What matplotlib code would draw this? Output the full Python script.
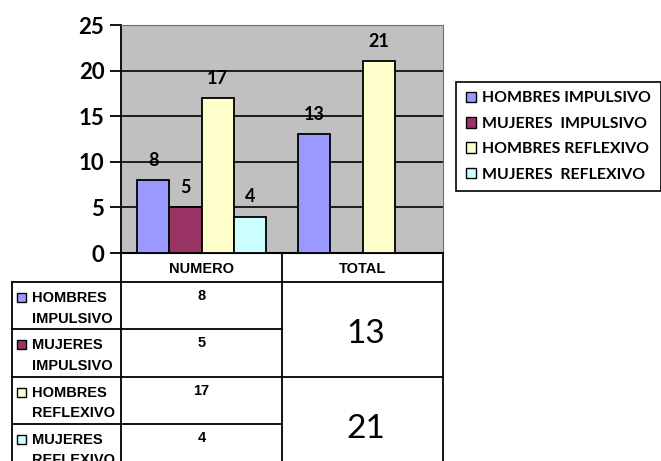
import numpy as np
import matplotlib
matplotlib.use('Agg')
import matplotlib.pyplot as plt
from matplotlib.patches import Patch, Rectangle

categories = ['NUMERO', 'TOTAL']
series = ['HOMBRES IMPULSIVO', 'MUJERES  IMPULSIVO', 'HOMBRES REFLEXIVO', 'MUJERES  REFLEXIVO']
row_labels = ['HOMBRES\nIMPULSIVO', 'MUJERES\nIMPULSIVO', 'HOMBRES\nREFLEXIVO', 'MUJERES\nREFLEXIVO']
numero = [8, 5, 17, 4]
total = [13, np.nan, 21, np.nan]
colors = ['#9999FF', '#993366', '#FFFFCC', '#CCFFFF']
yticks = [0, 5, 10, 15, 20, 25]

W, H = 661, 461
fig = plt.figure(figsize=(W / 100, H / 100), dpi=100)
fig.patch.set_facecolor('white')

# plot area in pixels
px_l, px_r, px_t, px_b = 121, 443, 25, 253
ax = fig.add_axes([px_l / W, 1 - px_b / H, (px_r - px_l) / W, (px_b - px_t) / H])
ax.set_facecolor('#C0C0C0')
ax.set_xlim(0, len(categories))
ax.set_ylim(0, 25)

bw = 0.2
for j, name in enumerate(series):
    vals = [numero[j], total[j]]
    for i, v in enumerate(vals):
        if np.isnan(v):
            continue
        x = i + 0.2 + bw * j
        b = ax.bar(x, v, width=bw, color=colors[j], edgecolor='black', linewidth=1.3, zorder=3)
        ax.bar_label(b, labels=[str(int(v))], padding=8, fontsize=13,
                     fontweight='bold', family='Lato', zorder=4)

ax.set_yticks(yticks)
ax.set_yticklabels([str(t) for t in yticks], fontsize=16, fontweight='bold', family='Lato')
ax.tick_params(axis='y', length=8, width=1.3, direction='out', pad=4)
ax.set_xticks([])
ax.grid(axis='y', color='black', linewidth=1.2, zorder=1)
ax.spines['left'].set_linewidth(1.3)
ax.spines['bottom'].set_linewidth(1.5)
ax.spines['top'].set_color('#707070')
ax.spines['right'].set_color('#707070')

# legend
handles = [Patch(facecolor=c, edgecolor='black', linewidth=1) for c in colors]
leg = fig.legend(handles, series, loc='upper left', bbox_to_anchor=(456 / W, 1 - 82 / H),
                 frameon=True, fancybox=False, edgecolor='black', framealpha=1,
                 prop={'family': 'Lato', 'weight': 'bold', 'size': 11.4},
                 handlelength=0.65, handleheight=0.65, handletextpad=0.4,
                 labelspacing=0.72, borderpad=0.6, borderaxespad=0)
leg.get_frame().set_linewidth(1.2)

# data table under the chart, drawn in pixel coordinates
tb = fig.add_axes([0, 0, 1, 1], zorder=-1)
tb.set_xlim(0, W)
tb.set_ylim(H, 0)
tb.axis('off')

col_l = 12
col_m = px_l + (px_r - px_l) / len(categories)
hdr_b = 282
row_h = 47.3
lw = 1.3
n = len(row_labels)
rows_y = [hdr_b + k * row_h for k in range(n + 1)]
tfont = dict(fontsize=10.5, fontweight='bold', family='Liberation Sans')

# header cells
for i, cat in enumerate(categories):
    cx = px_l + (i + 0.5) * (px_r - px_l) / len(categories)
    tb.text(cx, (px_b + hdr_b) / 2 + 1, cat, ha='center', va='center', **tfont)

# vertical lines
tb.plot([px_l, px_l], [px_b, H + 10], color='black', lw=lw)
tb.plot([col_m, col_m], [px_b, H + 10], color='black', lw=lw)
tb.plot([px_r, px_r], [px_b, H + 10], color='black', lw=lw)
tb.plot([col_l, col_l], [hdr_b, H + 10], color='black', lw=lw)
# horizontal lines
tb.plot([col_l, px_r], [hdr_b, hdr_b], color='black', lw=lw)
for k in range(1, n):
    right = px_r if k % 2 == 0 else col_m
    tb.plot([col_l, right], [rows_y[k], rows_y[k]], color='black', lw=lw)

for k in range(n):
    y0 = rows_y[k]
    tb.add_patch(Rectangle((17, y0 + 11), 9, 9, facecolor=colors[k], edgecolor='black', lw=1))
    for li, line in enumerate(row_labels[k].split('\n')):
        tb.text(32, y0 + 16 + li * 20.5, line, ha='left', va='center', **tfont)
    tb.text((px_l + col_m) / 2, y0 + 14, str(numero[k]), ha='center', va='center', **tfont)

for k in (0, 2):
    tot = total[k]
    cy = rows_y[k] + row_h + 5
    tb.text((col_m + px_r) / 2 + 3, cy, str(int(tot)), ha='center', va='center', fontsize=24,
            family='Lato')

fig.savefig('out.png', dpi=100)
